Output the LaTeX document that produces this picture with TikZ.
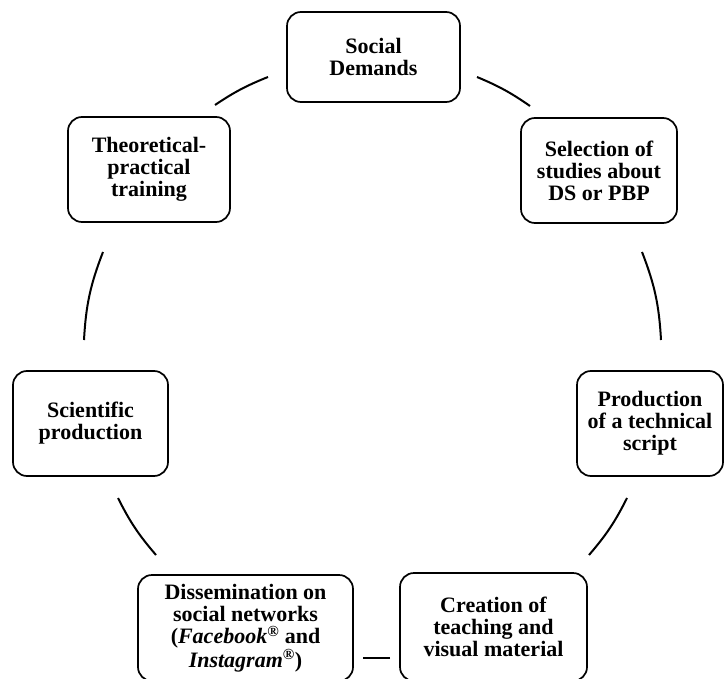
\documentclass[tikz,border=0pt]{standalone}
\usepackage{fontspec}
\setmainfont{Liberation Serif}
\begin{document}
\begin{tikzpicture}[x=1pt,y=-1pt,
  box/.style={draw, line width=1.7pt, rounded corners=14pt, align=center,
    font=\fontsize{22}{22}\selectfont\bfseries, inner sep=0pt},
  conn/.style={line width=2pt}]
\useasboundingbox (0,0) rectangle (725,679);
\fill[white] (0,0) rectangle (725,679);
\clip (0,0) rectangle (725,679);
\node[box, minimum width=173pt, minimum height=90pt] (sd) at (373.5,57) {Social\\Demands};
\node[box, minimum width=156pt, minimum height=105pt] (sel) at (599,170.5) {Selection of\\studies about\\DS or PBP};
\node[box, minimum width=146pt, minimum height=105pt] (prod) at (650,423.5) {Production\\of a technical\\script};
\node[box, minimum width=187pt, minimum height=108pt] (cre) at (493.5,627) {Creation of\\teaching and\\visual material};
\node[box, minimum width=215pt, minimum height=106pt] (dis) at (245.5,628) {Dissemination on\\social networks\\(\textit{Facebook}\textsuperscript{®} and\\\textit{Instagram}\textsuperscript{®})};
\node[box, minimum width=155pt, minimum height=105pt] (sci) at (90.5,423.5) {Scientific\\production};
\node[box, minimum width=162pt, minimum height=105pt] (the) at (149,169.5) {Theoretical-\\practical\\training};
% connector end points
\coordinate (c1a) at (477,77);  \coordinate (c1b) at (530,106);
\coordinate (c2a) at (642,252); \coordinate (c2b) at (661,340);
\coordinate (c3a) at (627,498); \coordinate (c3b) at (589,555);
\coordinate (c4a) at (390,658); \coordinate (c4b) at (363,658);
\coordinate (c5a) at (156,555); \coordinate (c5b) at (118,498);
\coordinate (c6a) at (84,340);  \coordinate (c6b) at (103,252);
\coordinate (c7a) at (215,105); \coordinate (c7b) at (268,77);
\draw[conn] (c1a) to[bend left=6] (c1b);
\draw[conn] (c2a) to[bend left=9] (c2b);
\draw[conn] (c3a) to[bend left=7] (c3b);
\draw[conn] (c4a) -- (c4b);
\draw[conn] (c5a) to[bend left=7] (c5b);
\draw[conn] (c6a) to[bend left=9] (c6b);
\draw[conn] (c7a) to[bend left=6] (c7b);
\end{tikzpicture}
\end{document}
